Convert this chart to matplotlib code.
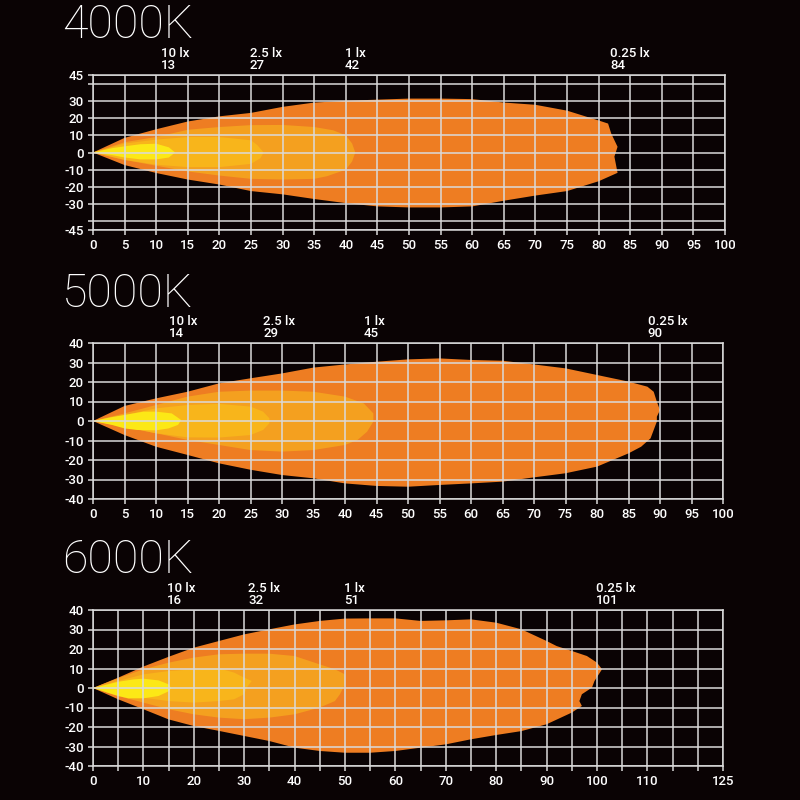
import numpy as np
import matplotlib
matplotlib.use('Agg')
import matplotlib.pyplot as plt
import matplotlib.transforms as mtransforms

# A: data (distance m, spread m)
levels = ['0.25 lx', '1 lx', '2.5 lx', '10 lx']
label_levels = ['10 lx', '2.5 lx', '1 lx', '0.25 lx']

# 4000K
k4000_reach = [13, 27, 42, 84]
k4000_025_x = [0, 5, 10, 15, 20, 25, 30, 35, 40, 45, 50, 55, 60, 65, 70, 75, 80, 81.5, 82, 83, 82.5, 83, 80,
               75, 70, 65, 60, 55, 50, 45, 40, 35, 30, 25, 20, 15, 10, 5]
k4000_025_y = [0, 8.5, 13.5, 18, 21, 23, 26.5, 29, 30, 30.7, 31.3, 31.3, 31, 29, 27.7, 24.3, 18.6, 16.8, 11, 3.3, -2.4,
               -11.8, -16.7, -22.4, -25, -28, -31.3, -31.9, -31.9, -31.3, -29.4, -27, -24.3, -22.4, -18.6, -15.7, -11.9, -7.3]
k4000_1_x = [0, 5, 10, 15, 20, 25, 30, 35, 38, 40, 41, 41.5, 41, 40, 37, 35, 30, 25, 20, 15, 10, 5]
k4000_1_y = [0, 6, 9, 13.2, 14.8, 15.9, 16, 14.8, 12.9, 10, 5.2, 0, -5.2, -10, -13.8, -15.3, -15.7, -15.3, -13.4, -11, -7.7, -4.3]
k4000_25_x = [0, 5, 10, 15, 20, 25, 26, 27, 26.5, 25, 20, 15, 10, 5]
k4000_25_y = [0, 5.2, 7.5, 9, 9, 7.1, 4.3, 0, -3.3, -6.6, -8.5, -8.5, -7.1, -4.3]
k4000_10_x = [0, 3, 5, 7.5, 10, 12, 13, 12, 10, 7.5, 5, 3]
k4000_10_y = [0, 2.5, 3.6, 4.8, 5.1, 3, 0, -2.9, -4, -4, -2.9, -1.5]

# 5000K
k5000_reach = [14, 29, 45, 90]
k5000_025_x = [0, 5, 10, 15, 20, 25, 30, 35, 40, 45, 50, 55, 60, 65, 70, 75, 80, 85, 88, 89, 89.5, 90, 89.5, 89.5,
               88.5, 87, 85, 80, 75, 70, 65, 60, 55, 50, 45, 40, 35, 30, 25, 20, 15, 10, 5]
k5000_025_y = [0, 7.7, 11.6, 15, 19.3, 21.9, 24.4, 27.4, 29, 30.4, 31.6, 32.1, 31.3, 30.9, 29, 27, 23.6, 20.2, 17.6,
               15, 9.9, 5.6, 2.2, -0.3, -8.9, -13.2, -16.6, -23.4, -26.8, -28.9, -31.1, -32, -32.8, -33.7, -33.3, -32,
               -29.4, -27.7, -25, -21.7, -17.4, -13.2, -7.2]
k5000_1_x = [0, 5, 10, 15, 20, 25, 30, 35, 40, 43, 44.5, 44.5, 43.5, 42, 40, 35, 30, 25, 20, 15, 10, 5]
k5000_1_y = [0, 3.9, 8.2, 12.5, 15, 15.6, 15.6, 15, 12.5, 9, 3.9, -0.3, -5.5, -9.7, -12.3, -14.9, -15.7, -14.9, -12.3,
             -9.7, -6.3, -3.2]
k5000_25_x = [0, 5, 10, 15, 20, 25, 27, 28, 28, 27, 25, 20, 15, 10, 5]
k5000_25_y = [0, 3, 6.5, 8.2, 8.8, 7.4, 4.8, 1.4, -1.2, -4.6, -7.2, -8.5, -8.4, -6.3, -2.9]
k5000_10_x = [0, 3, 5, 8, 10, 12.5, 14, 13.5, 12, 10, 7, 5, 3]
k5000_10_y = [0, 2, 3.1, 4.8, 4.8, 3.9, 0.5, -2, -3.8, -4.8, -4.6, -3.8, -2]

# 6000K
k6000_reach = [16, 32, 51, 101]
k6000_025_x = [0, 5, 10, 15, 20, 25, 30, 35, 40, 45, 50, 55, 60, 65, 70, 75, 80, 85, 90, 92, 95, 98, 100, 101,
               99.5, 99, 97, 96.5, 97, 95, 90, 85, 80, 75, 70, 65, 60, 55, 50, 45, 40, 35, 30, 25, 20, 15, 10, 5]
k6000_025_y = [0, 5.3, 11, 16, 20.7, 24.1, 27.5, 30.1, 32.6, 34.4, 35.6, 35.7, 35.7, 34.4, 34.7, 35.2, 33.5, 30.1,
               24.1, 21.5, 19, 16.4, 13, 9.6, 3.6, 0.2, -3.2, -6.7, -9.2, -12.6, -18.6, -22.1, -24.1, -26.3, -28.9,
               -30.6, -32.3, -33.2, -33.2, -32.3, -30.6, -27.2, -24.6, -22, -19.5, -16.1, -10.9, -5.8]
k6000_1_x = [0, 5, 10, 15, 20, 25, 30, 35, 40, 45, 48, 50, 50, 49, 48, 45, 40, 35, 30, 25, 20, 15, 10, 5]
k6000_1_y = [0, 5, 9.6, 13, 15.6, 17.3, 17.6, 17.6, 16.4, 12.1, 9.6, 7, 1.9, -3.2, -6.7, -10, -13.5, -15.2, -16,
             -15.2, -13.5, -10.9, -7.5, -4.1]
k6000_25_x = [0, 5, 10, 15, 20, 25, 28, 30, 31.5, 30.5, 30, 28, 25, 20, 15, 10, 5]
k6000_25_y = [0, 3.6, 7, 8.7, 9.6, 10.1, 7.9, 5.3, 3.6, 0.2, -3.2, -5.8, -6.7, -7.5, -6.7, -5, -2.4]
k6000_10_x = [0, 3, 5, 8, 10, 13, 15, 15.5, 15, 13, 10, 7, 5, 3]
k6000_10_y = [0, 1.9, 3.2, 4.4, 4.8, 3.9, 1.9, 0, -1.7, -4.1, -5.3, -5.3, -4.1, -2.5]

# B: style
bg = '#0a0304'
grid_col = '#dadada'
fill_cols = ['#ee7d22', '#f4a01f', '#f8b51b', '#fce816']
lab_font = ['Roboto', 'DejaVu Sans']

fig = plt.figure(figsize=(8, 8), dpi=100, facecolor=bg)


def draw_panel(rect, title, title_y, polys, reach, xmax, ylim, xlabels, ylabels, label_dx):
    ax = fig.add_axes(rect)
    ax.set_facecolor(bg)
    for (px, py), col in zip(polys, fill_cols):
        ax.fill(px, py, color=col, lw=0, zorder=1)
    ax.set_xlim(0, xmax)
    ax.set_ylim(-ylim, ylim)
    # grid every 5 m / 10 m
    xt = np.arange(0, xmax + 1, 5)
    ax.set_xticks(xt)
    ax.set_xticklabels([str(int(v)) if int(v) in xlabels else '' for v in xt])
    yt = sorted(set(list(np.arange(-40, 41, 10)) + [-ylim, ylim]))
    ax.set_yticks(yt)
    ax.set_yticklabels([str(int(v)) if int(v) in ylabels else '' for v in yt])
    ax.grid(True, color=grid_col, lw=1.1)
    ax.set_axisbelow(False)
    ax.tick_params(colors=grid_col, labelcolor='white', length=3.5, width=1.1, labelsize=9.5, pad=3)
    for t in ax.get_xticklabels() + ax.get_yticklabels():
        t.set_family(lab_font)
        t.set_fontweight('medium')
    for s in ax.spines.values():
        s.set_color(grid_col)
        s.set_linewidth(1.1)
    # reach labels above the plot
    trans = mtransforms.blended_transform_factory(ax.transData, ax.transAxes)
    for lab, d in zip(label_levels, reach):
        ax.annotate(lab + '\n' + str(d), xy=(d, 1), xycoords=trans, xytext=(label_dx, 2),
                    textcoords='offset points', ha='left', va='bottom', color='white',
                    fontsize=9.5, family=lab_font, fontweight='medium', linespacing=0.9)
    fig.text(62 / 800, title_y, title, color='white', fontsize=33.5, family=['Roboto', 'DejaVu Sans'],
             fontweight='light', va='baseline', ha='left')
    return ax


# C: panels
draw_panel([0.11625, 0.7125, 0.79, 0.19375], '4000K', 0.9525,
           [(k4000_025_x, k4000_025_y), (k4000_1_x, k4000_1_y), (k4000_25_x, k4000_25_y), (k4000_10_x, k4000_10_y)],
           k4000_reach, 100, 45, list(range(0, 101, 5)), [-45, -30, -20, -10, 0, 10, 20, 30, 45], -10)
draw_panel([0.11625, 0.37625, 0.7875, 0.195], '5000K', 0.6167,
           [(k5000_025_x, k5000_025_y), (k5000_1_x, k5000_1_y), (k5000_25_x, k5000_25_y), (k5000_10_x, k5000_10_y)],
           k5000_reach, 100, 40, list(range(0, 101, 5)), list(range(-40, 41, 10)), -9)
draw_panel([0.11625, 0.0425, 0.7875, 0.195], '6000K', 0.2837,
           [(k6000_025_x, k6000_025_y), (k6000_1_x, k6000_1_y), (k6000_25_x, k6000_25_y), (k6000_10_x, k6000_10_y)],
           k6000_reach, 125, 40, list(range(0, 111, 10)) + [125], list(range(-40, 41, 10)), -4.5)

fig.savefig('out.png', dpi=100, facecolor=bg)
